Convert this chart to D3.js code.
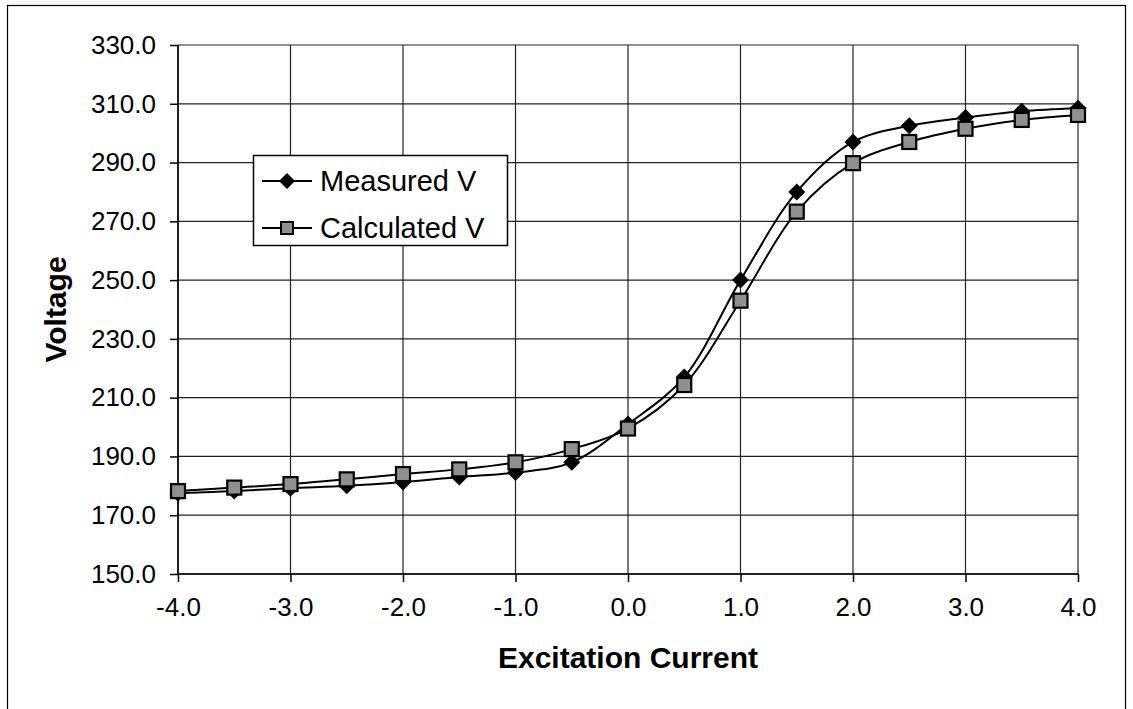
<!DOCTYPE html>
<html><head><meta charset="utf-8">
<script src="https://cdn.jsdelivr.net/npm/d3@7"></script>
<style>body{margin:0;background:#fff}svg{display:block}text{font-family:"Liberation Sans",Arial,sans-serif;fill:#000}</style>
</head><body><svg id="c" width="1133" height="709"></svg>
<script>
const current = [-4.0,-3.5,-3.0,-2.5,-2.0,-1.5,-1.0,-0.5,0.0,0.5,1.0,1.5,2.0,2.5,3.0,3.5,4.0];
const measured = [177.5,178.2,179.2,180.0,181.3,183.0,184.5,188.0,201.0,217.0,250.0,280.0,297.0,302.5,305.3,307.5,308.5];
const calculated = [178.2,179.4,180.6,182.2,184.0,185.6,188.0,192.5,199.5,214.3,243.0,273.3,289.8,297.0,301.5,304.5,306.2];
const xTicks = [-4,-3,-2,-1,0,1,2,3,4];
const yTicks = [150,170,190,210,230,250,270,290,310,330];
const seriesNames = ["Measured V","Calculated V"];

const svg = d3.select("#c");
const L=178,R=1078,T=45,B=574;
const x = d3.scaleLinear().domain([-4,4]).range([L,R]);
const y = d3.scaleLinear().domain([150,330]).range([B,T]);
const fmt = d => d.toFixed(1);

// outer frame
svg.append("rect").attr("x",7.5).attr("y",5.5).attr("width",1118).attr("height",720)
  .attr("fill","none").attr("stroke","#000").attr("stroke-width",1.2);

// gridlines
svg.append("g").selectAll("line").data(yTicks).join("line")
  .attr("x1",L).attr("x2",R).attr("y1",d=>y(d)).attr("y2",d=>y(d))
  .attr("stroke","#222").attr("stroke-width",1.2);
svg.append("g").selectAll("line").data(xTicks).join("line")
  .attr("y1",T).attr("y2",B).attr("x1",d=>x(d)).attr("x2",d=>x(d))
  .attr("stroke","#222").attr("stroke-width",1.2);

// axes
const yAxis = d3.axisLeft(y).tickValues(yTicks).tickFormat(fmt).tickSize(8).tickPadding(14);
const gy = svg.append("g").attr("transform",`translate(${L},0)`).call(yAxis);
const xAxis = d3.axisBottom(x).tickValues(xTicks).tickFormat(fmt).tickSize(8).tickPadding(16);
const gx = svg.append("g").attr("transform",`translate(0,${B})`).call(xAxis);
[gx,gy].forEach(g=>{
  g.selectAll("path,line").attr("stroke","#000").attr("stroke-width",1.5);
  g.selectAll("text").attr("font-size",26).attr("font-family","Liberation Sans, Arial, sans-serif");
});
gx.select(".domain").attr("d",`M${L},0H${R}`);
gy.select(".domain").attr("d",`M0,${B}V${T}`);

// titles
svg.append("text").attr("x",(L+R)/2).attr("y",668).attr("text-anchor","middle")
  .attr("font-size",30).attr("font-weight","bold").text("Excitation Current");
svg.append("text").attr("transform",`translate(66,${(T+B)/2}) rotate(-90)`).attr("text-anchor","middle")
  .attr("font-size",30).attr("font-weight","bold").text("Voltage");

const line = d3.line().x(d=>x(d[0])).y(d=>y(d[1])).curve(d3.curveCatmullRom.alpha(0.5));
const mData = current.map((c,i)=>[c,measured[i]]);
const cData = current.map((c,i)=>[c,calculated[i]]);

svg.append("path").datum(mData).attr("d",line).attr("fill","none").attr("stroke","#000").attr("stroke-width",2);
svg.append("path").datum(cData).attr("d",line).attr("fill","none").attr("stroke","#000").attr("stroke-width",2);

const diamond = s=>`M0,${-s}L${s},0L0,${s}L${-s},0Z`;
svg.append("g").selectAll("path").data(mData).join("path")
  .attr("transform",d=>`translate(${x(d[0])},${y(d[1])})`).attr("d",diamond(8.5)).attr("fill","#000");
svg.append("g").selectAll("rect").data(cData).join("rect")
  .attr("x",d=>x(d[0])-7).attr("y",d=>y(d[1])-7).attr("width",14).attr("height",14)
  .attr("fill","#8f8f8f").attr("stroke","#000").attr("stroke-width",2.2);

// legend
const lg = svg.append("g");
lg.append("rect").attr("x",253.5).attr("y",155.5).attr("width",254).attr("height",90)
  .attr("fill","#fff").attr("stroke","#000").attr("stroke-width",1.5);
const ly = [181,228];
lg.selectAll("line").data(ly).join("line").attr("x1",262).attr("x2",312).attr("y1",d=>d).attr("y2",d=>d)
  .attr("stroke","#000").attr("stroke-width",2);
lg.append("path").attr("transform",`translate(287,${ly[0]})`).attr("d",diamond(8)).attr("fill","#000");
lg.append("rect").attr("x",281).attr("y",ly[1]-6).attr("width",12).attr("height",12)
  .attr("fill","#8f8f8f").attr("stroke","#000").attr("stroke-width",2);
lg.selectAll("text").data(seriesNames).join("text").attr("x",320).attr("y",(d,i)=>ly[i]+10)
  .attr("font-size",29).text(d=>d);
</script></body></html>
